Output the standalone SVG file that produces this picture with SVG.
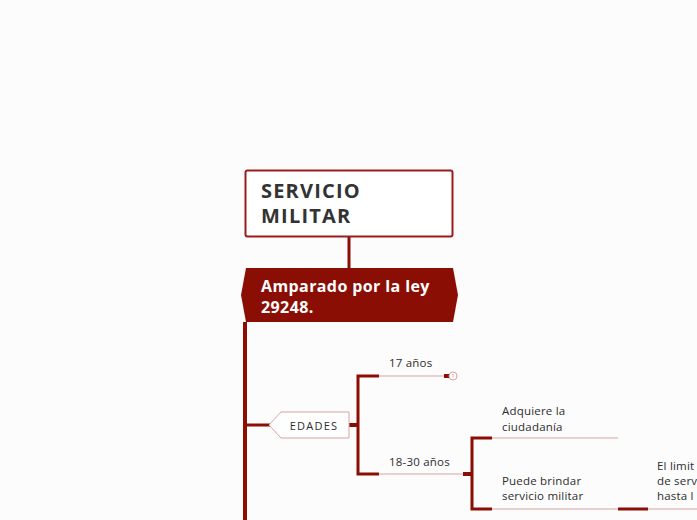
<svg xmlns="http://www.w3.org/2000/svg" width="697" height="520" viewBox="0 0 697 520">
<style>
.thick{stroke:#8b0e04;stroke-width:4;fill:none}
.thin{stroke:#d9a3a3;stroke-width:1;fill:none}
.t{font-family:"Open Sans",Lato,sans-serif;font-size:11.5px;fill:#2d2d2d;letter-spacing:0.2px}
.title{font-family:"Open Sans",Lato,sans-serif;font-weight:700;font-size:20px;fill:#333;letter-spacing:1.2px}
.ban{font-family:"Open Sans",Lato,sans-serif;font-weight:700;font-size:16px;fill:#fff;letter-spacing:0.4px}
</style>
<rect width="697" height="520" fill="#fcfcfc"/>
<g id="connectors">
<line class="thick" x1="349" y1="237" x2="349" y2="268" style="stroke-width:3"/>
<line class="thick" x1="245" y1="322" x2="245" y2="520"/>
<line class="thick" x1="245" y1="425" x2="270" y2="425" style="stroke-width:3"/>
<line class="thick" x1="349" y1="425" x2="358" y2="425"/>
<polyline class="thick" points="379,376 358,376 358,474 379,474" style="stroke-width:3"/>
<line class="thin" x1="379" y1="376" x2="446" y2="376"/>
<line class="thick" x1="444" y1="376" x2="450" y2="376"/>
<line class="thin" x1="379" y1="474" x2="464" y2="474"/>
<line class="thick" x1="463" y1="474" x2="472" y2="474"/>
<polyline class="thick" points="492,438 472,438 472,509 492,509" style="stroke-width:3"/>
<line class="thin" x1="492" y1="438" x2="618" y2="438"/>
<line class="thin" x1="492" y1="509" x2="618" y2="509"/>
<line class="thick" x1="618" y1="509" x2="648" y2="509" style="stroke-width:3"/>
<line class="thin" x1="648" y1="509" x2="697" y2="509"/>
</g>
<g id="root">
<rect x="245.5" y="170.5" width="207" height="66" rx="2" fill="#fff" stroke="#9b1c1c" stroke-width="2"/>
<text class="title" x="261" y="198">SERVICIO</text>
<text class="title" x="261" y="223">MILITAR</text>
</g>
<g id="ley">
<polygon points="246,268 453,268 458,295 453,322 246,322 241,295" fill="#8b0e04"/>
<text class="ban" x="261" y="292">Amparado por la ley</text>
<text class="ban" x="261" y="313">29248.</text>
</g>
<g id="edades">
<polygon points="269,425 281,412 349,412 349,438 281,438" fill="#fff" stroke="#d9a3a3" stroke-width="1"/>
<text class="t" x="314" y="430" text-anchor="middle" style="font-size:11px;letter-spacing:1.2px">EDADES</text>
</g>
<g id="a17">
<text class="t" x="389" y="367">17 años</text>
<circle cx="453" cy="376" r="4" fill="#fff" stroke="#d9a3a3" stroke-width="1"/>
<text x="453" y="378" text-anchor="middle" style="font-family:'Open Sans',sans-serif;font-size:5px;fill:#c07070">1</text>
</g>
<g id="a1830">
<text class="t" x="389" y="466">18-30 años</text>
</g>
<g id="ciudadania">
<text class="t" x="502" y="415">Adquiere la</text>
<text class="t" x="502" y="431">ciudadanía</text>
</g>
<g id="brindar">
<text class="t" x="502" y="485">Puede brindar</text>
<text class="t" x="502" y="500">servicio militar</text>
</g>
<g id="limite">
<text class="t" x="657" y="470">El limit</text>
<text class="t" x="657" y="485">de serv</text>
<text class="t" x="657" y="500">hasta l</text>
</g>
</svg>
